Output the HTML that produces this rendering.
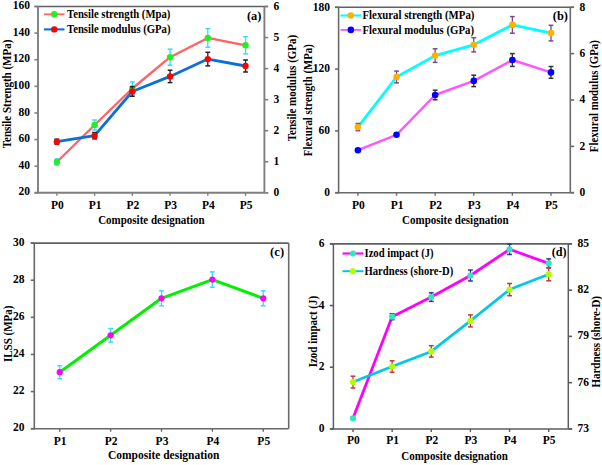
<!DOCTYPE html>
<html><head><meta charset="utf-8"><style>
html,body{margin:0;padding:0;background:#fff;}
body{width:602px;height:465px;overflow:hidden;}
svg{display:block;}
text{font-family:"Liberation Serif", serif;font-weight:bold;}
</style></head><body>
<svg width="602" height="465" viewBox="0 0 602 465">
<rect width="602" height="465" fill="#fff"/>
<line x1="34.5" y1="6.5" x2="267.9" y2="6.5" stroke="#606060" stroke-width="1.6"/>
<line x1="38" y1="6.5" x2="38" y2="193.60000000000002" stroke="#7f7f7f" stroke-width="1.9"/>
<line x1="34.5" y1="192.8" x2="264.4" y2="192.8" stroke="#7f7f7f" stroke-width="1.9"/>
<line x1="264.4" y1="6.5" x2="264.4" y2="192.8" stroke="#7f7f7f" stroke-width="1.9"/>
<line x1="264.4" y1="192.8" x2="268.2" y2="192.8" stroke="#7f7f7f" stroke-width="1.6"/>
<line x1="34.5" y1="192.8" x2="38" y2="192.8" stroke="#7f7f7f" stroke-width="1.6"/>
<text x="30" y="195.4" text-anchor="end" font-size="11.5" fill="#000">20</text>
<line x1="34.5" y1="166.18571428571428" x2="38" y2="166.18571428571428" stroke="#7f7f7f" stroke-width="1.6"/>
<text x="30" y="168.78571428571428" text-anchor="end" font-size="11.5" fill="#000">40</text>
<line x1="34.5" y1="139.57142857142858" x2="38" y2="139.57142857142858" stroke="#7f7f7f" stroke-width="1.6"/>
<text x="30" y="142.17142857142858" text-anchor="end" font-size="11.5" fill="#000">60</text>
<line x1="34.5" y1="112.95714285714286" x2="38" y2="112.95714285714286" stroke="#7f7f7f" stroke-width="1.6"/>
<text x="30" y="115.55714285714285" text-anchor="end" font-size="11.5" fill="#000">80</text>
<line x1="34.5" y1="86.34285714285714" x2="38" y2="86.34285714285714" stroke="#7f7f7f" stroke-width="1.6"/>
<text x="30" y="88.94285714285714" text-anchor="end" font-size="11.5" fill="#000">100</text>
<line x1="34.5" y1="59.72857142857143" x2="38" y2="59.72857142857143" stroke="#7f7f7f" stroke-width="1.6"/>
<text x="30" y="62.32857142857143" text-anchor="end" font-size="11.5" fill="#000">120</text>
<line x1="34.5" y1="33.1142857142857" x2="38" y2="33.1142857142857" stroke="#7f7f7f" stroke-width="1.6"/>
<text x="30" y="35.7142857142857" text-anchor="end" font-size="11.5" fill="#000">140</text>
<line x1="34.5" y1="6.5" x2="38" y2="6.5" stroke="#7f7f7f" stroke-width="1.6"/>
<text x="30" y="9.1" text-anchor="end" font-size="11.5" fill="#000">160</text>
<line x1="264.4" y1="192.8" x2="268.2" y2="192.8" stroke="#7f7f7f" stroke-width="1.6"/>
<text x="273.5" y="196.20000000000002" text-anchor="start" font-size="11.5" fill="#000">0</text>
<line x1="264.4" y1="161.75" x2="268.2" y2="161.75" stroke="#7f7f7f" stroke-width="1.6"/>
<text x="273.5" y="165.15" text-anchor="start" font-size="11.5" fill="#000">1</text>
<line x1="264.4" y1="130.70000000000002" x2="268.2" y2="130.70000000000002" stroke="#7f7f7f" stroke-width="1.6"/>
<text x="273.5" y="134.10000000000002" text-anchor="start" font-size="11.5" fill="#000">2</text>
<line x1="264.4" y1="99.64999999999999" x2="268.2" y2="99.64999999999999" stroke="#7f7f7f" stroke-width="1.6"/>
<text x="273.5" y="103.05" text-anchor="start" font-size="11.5" fill="#000">3</text>
<line x1="264.4" y1="68.60000000000001" x2="268.2" y2="68.60000000000001" stroke="#7f7f7f" stroke-width="1.6"/>
<text x="273.5" y="72.00000000000001" text-anchor="start" font-size="11.5" fill="#000">4</text>
<line x1="264.4" y1="37.55000000000001" x2="268.2" y2="37.55000000000001" stroke="#7f7f7f" stroke-width="1.6"/>
<text x="273.5" y="40.95000000000001" text-anchor="start" font-size="11.5" fill="#000">5</text>
<line x1="264.4" y1="6.499999999999972" x2="268.2" y2="6.499999999999972" stroke="#7f7f7f" stroke-width="1.6"/>
<text x="273.5" y="9.899999999999972" text-anchor="start" font-size="11.5" fill="#000">6</text>
<line x1="56.86666666666666" y1="192.8" x2="56.86666666666666" y2="195.8" stroke="#7f7f7f" stroke-width="1.4"/>
<text x="57.36666666666666" y="209.2" text-anchor="middle" font-size="11.5" fill="#000">P0</text>
<line x1="94.6" y1="192.8" x2="94.6" y2="195.8" stroke="#7f7f7f" stroke-width="1.4"/>
<text x="95.1" y="209.2" text-anchor="middle" font-size="11.5" fill="#000">P1</text>
<line x1="132.33333333333331" y1="192.8" x2="132.33333333333331" y2="195.8" stroke="#7f7f7f" stroke-width="1.4"/>
<text x="132.83333333333331" y="209.2" text-anchor="middle" font-size="11.5" fill="#000">P2</text>
<line x1="170.06666666666663" y1="192.8" x2="170.06666666666663" y2="195.8" stroke="#7f7f7f" stroke-width="1.4"/>
<text x="170.56666666666663" y="209.2" text-anchor="middle" font-size="11.5" fill="#000">P3</text>
<line x1="207.79999999999998" y1="192.8" x2="207.79999999999998" y2="195.8" stroke="#7f7f7f" stroke-width="1.4"/>
<text x="208.29999999999998" y="209.2" text-anchor="middle" font-size="11.5" fill="#000">P4</text>
<line x1="245.5333333333333" y1="192.8" x2="245.5333333333333" y2="195.8" stroke="#7f7f7f" stroke-width="1.4"/>
<text x="246.0333333333333" y="209.2" text-anchor="middle" font-size="11.5" fill="#000">P5</text>
<text transform="translate(151.4,224) scale(1,1.1)" text-anchor="middle" font-size="11" fill="#000">Composite designation</text>
<text transform="translate(10.5,94) rotate(-90) scale(1,1.1)" text-anchor="middle" font-size="11" fill="#000">Tensile Strength (MPa)</text>
<text transform="translate(296,88) rotate(-90) scale(1,1.1)" text-anchor="middle" font-size="11" fill="#000">Tensile modulus (GPa)</text>
<text x="254.2" y="20.3" text-anchor="middle" font-size="12.4" fill="#000">(a)</text>
<polyline points="56.87,162.00 94.60,125.00 132.33,88.50 170.07,57.20 207.80,37.90 245.53,45.30" fill="none" stroke="#FF6262" stroke-width="2.3" stroke-linejoin="round"/>
<polyline points="56.87,141.70 94.60,135.70 132.33,91.50 170.07,76.40 207.80,59.10 245.53,66.00" fill="none" stroke="#0A6FD8" stroke-width="2.8" stroke-linejoin="round"/>
<line x1="56.86666666666666" y1="159" x2="56.86666666666666" y2="165" stroke="#33DDFF" stroke-width="1.3"/>
<line x1="54.46666666666666" y1="159" x2="59.26666666666666" y2="159" stroke="#33DDFF" stroke-width="1.5"/>
<line x1="54.46666666666666" y1="165" x2="59.26666666666666" y2="165" stroke="#33DDFF" stroke-width="1.5"/>
<line x1="94.6" y1="120" x2="94.6" y2="130" stroke="#33DDFF" stroke-width="1.3"/>
<line x1="92.19999999999999" y1="120" x2="97.0" y2="120" stroke="#33DDFF" stroke-width="1.5"/>
<line x1="92.19999999999999" y1="130" x2="97.0" y2="130" stroke="#33DDFF" stroke-width="1.5"/>
<line x1="132.33333333333331" y1="82.0" x2="132.33333333333331" y2="95.0" stroke="#33DDFF" stroke-width="1.3"/>
<line x1="129.9333333333333" y1="82.0" x2="134.73333333333332" y2="82.0" stroke="#33DDFF" stroke-width="1.5"/>
<line x1="129.9333333333333" y1="95.0" x2="134.73333333333332" y2="95.0" stroke="#33DDFF" stroke-width="1.5"/>
<line x1="170.06666666666663" y1="49.2" x2="170.06666666666663" y2="65.2" stroke="#33DDFF" stroke-width="1.3"/>
<line x1="167.66666666666663" y1="49.2" x2="172.46666666666664" y2="49.2" stroke="#33DDFF" stroke-width="1.5"/>
<line x1="167.66666666666663" y1="65.2" x2="172.46666666666664" y2="65.2" stroke="#33DDFF" stroke-width="1.5"/>
<line x1="207.79999999999998" y1="28.599999999999998" x2="207.79999999999998" y2="47.2" stroke="#33DDFF" stroke-width="1.3"/>
<line x1="205.39999999999998" y1="28.599999999999998" x2="210.2" y2="28.599999999999998" stroke="#33DDFF" stroke-width="1.5"/>
<line x1="205.39999999999998" y1="47.2" x2="210.2" y2="47.2" stroke="#33DDFF" stroke-width="1.5"/>
<line x1="245.5333333333333" y1="36.699999999999996" x2="245.5333333333333" y2="53.9" stroke="#33DDFF" stroke-width="1.3"/>
<line x1="243.1333333333333" y1="36.699999999999996" x2="247.9333333333333" y2="36.699999999999996" stroke="#33DDFF" stroke-width="1.5"/>
<line x1="243.1333333333333" y1="53.9" x2="247.9333333333333" y2="53.9" stroke="#33DDFF" stroke-width="1.5"/>
<circle cx="56.87" cy="162.00" r="3.2" fill="#22EE22"/>
<circle cx="94.60" cy="125.00" r="3.2" fill="#22EE22"/>
<circle cx="132.33" cy="88.50" r="3.2" fill="#22EE22"/>
<circle cx="170.07" cy="57.20" r="3.2" fill="#22EE22"/>
<circle cx="207.80" cy="37.90" r="3.2" fill="#22EE22"/>
<circle cx="245.53" cy="45.30" r="3.2" fill="#22EE22"/>
<line x1="56.86666666666666" y1="139.2" x2="56.86666666666666" y2="144.2" stroke="#222222" stroke-width="1.3"/>
<line x1="54.46666666666666" y1="139.2" x2="59.26666666666666" y2="139.2" stroke="#222222" stroke-width="1.5"/>
<line x1="54.46666666666666" y1="144.2" x2="59.26666666666666" y2="144.2" stroke="#222222" stroke-width="1.5"/>
<line x1="94.6" y1="132.5" x2="94.6" y2="138.89999999999998" stroke="#222222" stroke-width="1.3"/>
<line x1="92.19999999999999" y1="132.5" x2="97.0" y2="132.5" stroke="#222222" stroke-width="1.5"/>
<line x1="92.19999999999999" y1="138.89999999999998" x2="97.0" y2="138.89999999999998" stroke="#222222" stroke-width="1.5"/>
<line x1="132.33333333333331" y1="86.7" x2="132.33333333333331" y2="96.3" stroke="#222222" stroke-width="1.3"/>
<line x1="129.9333333333333" y1="86.7" x2="134.73333333333332" y2="86.7" stroke="#222222" stroke-width="1.5"/>
<line x1="129.9333333333333" y1="96.3" x2="134.73333333333332" y2="96.3" stroke="#222222" stroke-width="1.5"/>
<line x1="170.06666666666663" y1="70.2" x2="170.06666666666663" y2="82.60000000000001" stroke="#222222" stroke-width="1.3"/>
<line x1="167.66666666666663" y1="70.2" x2="172.46666666666664" y2="70.2" stroke="#222222" stroke-width="1.5"/>
<line x1="167.66666666666663" y1="82.60000000000001" x2="172.46666666666664" y2="82.60000000000001" stroke="#222222" stroke-width="1.5"/>
<line x1="207.79999999999998" y1="52.300000000000004" x2="207.79999999999998" y2="65.9" stroke="#222222" stroke-width="1.3"/>
<line x1="205.39999999999998" y1="52.300000000000004" x2="210.2" y2="52.300000000000004" stroke="#222222" stroke-width="1.5"/>
<line x1="205.39999999999998" y1="65.9" x2="210.2" y2="65.9" stroke="#222222" stroke-width="1.5"/>
<line x1="245.5333333333333" y1="60" x2="245.5333333333333" y2="72" stroke="#222222" stroke-width="1.3"/>
<line x1="243.1333333333333" y1="60" x2="247.9333333333333" y2="60" stroke="#222222" stroke-width="1.5"/>
<line x1="243.1333333333333" y1="72" x2="247.9333333333333" y2="72" stroke="#222222" stroke-width="1.5"/>
<circle cx="56.87" cy="141.70" r="3.2" fill="#FF0000"/>
<circle cx="94.60" cy="135.70" r="3.2" fill="#FF0000"/>
<circle cx="132.33" cy="91.50" r="3.2" fill="#FF0000"/>
<circle cx="170.07" cy="76.40" r="3.2" fill="#FF0000"/>
<circle cx="207.80" cy="59.10" r="3.2" fill="#FF0000"/>
<circle cx="245.53" cy="66.00" r="3.2" fill="#FF0000"/>
<line x1="44" y1="14.3" x2="64.5" y2="14.3" stroke="#FF6262" stroke-width="1.7249999999999999"/>
<circle cx="54.25" cy="14.3" r="3.2" fill="#22EE22"/>
<text transform="translate(67,18.0) scale(1,1.1)" text-anchor="start" font-size="10.7" fill="#000">Tensile strength (Mpa)</text>
<line x1="44" y1="29.4" x2="64.5" y2="29.4" stroke="#0A6FD8" stroke-width="2.0999999999999996"/>
<circle cx="54.25" cy="29.4" r="3.2" fill="#FF0000"/>
<text transform="translate(67,33.1) scale(1,1.1)" text-anchor="start" font-size="10.7" fill="#000">Tensile modulus (GPa)</text>
<line x1="335.1" y1="7.3" x2="573.8" y2="7.3" stroke="#606060" stroke-width="1.6"/>
<line x1="338.6" y1="7.3" x2="338.6" y2="193.5" stroke="#6a6a6a" stroke-width="1.6"/>
<line x1="335.1" y1="192.7" x2="570.3" y2="192.7" stroke="#6a6a6a" stroke-width="1.6"/>
<line x1="570.3" y1="7.3" x2="570.3" y2="192.7" stroke="#6a6a6a" stroke-width="1.6"/>
<line x1="570.3" y1="192.7" x2="574.0999999999999" y2="192.7" stroke="#6a6a6a" stroke-width="1.6"/>
<line x1="335.1" y1="192.7" x2="338.6" y2="192.7" stroke="#6a6a6a" stroke-width="1.6"/>
<text x="330" y="195.89999999999998" text-anchor="end" font-size="11.5" fill="#000">0</text>
<line x1="335.1" y1="130.9" x2="338.6" y2="130.9" stroke="#6a6a6a" stroke-width="1.6"/>
<text x="330" y="134.1" text-anchor="end" font-size="11.5" fill="#000">60</text>
<line x1="335.1" y1="69.10000000000001" x2="338.6" y2="69.10000000000001" stroke="#6a6a6a" stroke-width="1.6"/>
<text x="330" y="72.30000000000001" text-anchor="end" font-size="11.5" fill="#000">120</text>
<line x1="335.1" y1="7.300000000000011" x2="338.6" y2="7.300000000000011" stroke="#6a6a6a" stroke-width="1.6"/>
<text x="330" y="10.50000000000001" text-anchor="end" font-size="11.5" fill="#000">180</text>
<line x1="570.3" y1="192.7" x2="574.0999999999999" y2="192.7" stroke="#6a6a6a" stroke-width="1.6"/>
<text x="579.5" y="195.89999999999998" text-anchor="start" font-size="11.5" fill="#000">0</text>
<line x1="570.3" y1="146.35" x2="574.0999999999999" y2="146.35" stroke="#6a6a6a" stroke-width="1.6"/>
<text x="579.5" y="149.54999999999998" text-anchor="start" font-size="11.5" fill="#000">2</text>
<line x1="570.3" y1="100.0" x2="574.0999999999999" y2="100.0" stroke="#6a6a6a" stroke-width="1.6"/>
<text x="579.5" y="103.2" text-anchor="start" font-size="11.5" fill="#000">4</text>
<line x1="570.3" y1="53.650000000000006" x2="574.0999999999999" y2="53.650000000000006" stroke="#6a6a6a" stroke-width="1.6"/>
<text x="579.5" y="56.85000000000001" text-anchor="start" font-size="11.5" fill="#000">6</text>
<line x1="570.3" y1="7.300000000000011" x2="574.0999999999999" y2="7.300000000000011" stroke="#6a6a6a" stroke-width="1.6"/>
<text x="579.5" y="10.50000000000001" text-anchor="start" font-size="11.5" fill="#000">8</text>
<line x1="357.90833333333336" y1="192.7" x2="357.90833333333336" y2="195.7" stroke="#6a6a6a" stroke-width="1.4"/>
<text x="358.40833333333336" y="208.7" text-anchor="middle" font-size="11.5" fill="#000">P0</text>
<line x1="396.525" y1="192.7" x2="396.525" y2="195.7" stroke="#6a6a6a" stroke-width="1.4"/>
<text x="397.025" y="208.7" text-anchor="middle" font-size="11.5" fill="#000">P1</text>
<line x1="435.14166666666665" y1="192.7" x2="435.14166666666665" y2="195.7" stroke="#6a6a6a" stroke-width="1.4"/>
<text x="435.64166666666665" y="208.7" text-anchor="middle" font-size="11.5" fill="#000">P2</text>
<line x1="473.7583333333333" y1="192.7" x2="473.7583333333333" y2="195.7" stroke="#6a6a6a" stroke-width="1.4"/>
<text x="474.2583333333333" y="208.7" text-anchor="middle" font-size="11.5" fill="#000">P3</text>
<line x1="512.375" y1="192.7" x2="512.375" y2="195.7" stroke="#6a6a6a" stroke-width="1.4"/>
<text x="512.875" y="208.7" text-anchor="middle" font-size="11.5" fill="#000">P4</text>
<line x1="550.9916666666666" y1="192.7" x2="550.9916666666666" y2="195.7" stroke="#6a6a6a" stroke-width="1.4"/>
<text x="551.4916666666666" y="208.7" text-anchor="middle" font-size="11.5" fill="#000">P5</text>
<text transform="translate(455.3,223.6) scale(1,1.1)" text-anchor="middle" font-size="11" fill="#000">Composite designation</text>
<text transform="translate(312.3,100.2) rotate(-90) scale(1,1.1)" text-anchor="middle" font-size="10.8" fill="#000">Flexural strength (MPa)</text>
<text transform="translate(598,96.2) rotate(-90) scale(1,1.1)" text-anchor="middle" font-size="10.85" fill="#000">Flexural modulus (GPa)</text>
<text x="560.4" y="19.5" text-anchor="middle" font-size="12.4" fill="#000">(b)</text>
<polyline points="357.91,127.10 396.52,77.00 435.14,55.60 473.76,44.80 512.38,24.90 550.99,33.10" fill="none" stroke="#00FFFF" stroke-width="2.8" stroke-linejoin="round"/>
<polyline points="357.91,150.20 396.52,134.80 435.14,95.00 473.76,80.90 512.38,60.00 550.99,72.40" fill="none" stroke="#FF55FF" stroke-width="2.4" stroke-linejoin="round"/>
<line x1="357.90833333333336" y1="123.5" x2="357.90833333333336" y2="130.7" stroke="#7B4A8C" stroke-width="1.3"/>
<line x1="355.5083333333334" y1="123.5" x2="360.30833333333334" y2="123.5" stroke="#7B4A8C" stroke-width="1.5"/>
<line x1="355.5083333333334" y1="130.7" x2="360.30833333333334" y2="130.7" stroke="#7B4A8C" stroke-width="1.5"/>
<line x1="396.525" y1="71.1" x2="396.525" y2="82.9" stroke="#7B4A8C" stroke-width="1.3"/>
<line x1="394.125" y1="71.1" x2="398.92499999999995" y2="71.1" stroke="#7B4A8C" stroke-width="1.5"/>
<line x1="394.125" y1="82.9" x2="398.92499999999995" y2="82.9" stroke="#7B4A8C" stroke-width="1.5"/>
<line x1="435.14166666666665" y1="48.800000000000004" x2="435.14166666666665" y2="62.4" stroke="#7B4A8C" stroke-width="1.3"/>
<line x1="432.7416666666667" y1="48.800000000000004" x2="437.54166666666663" y2="48.800000000000004" stroke="#7B4A8C" stroke-width="1.5"/>
<line x1="432.7416666666667" y1="62.4" x2="437.54166666666663" y2="62.4" stroke="#7B4A8C" stroke-width="1.5"/>
<line x1="473.7583333333333" y1="37.699999999999996" x2="473.7583333333333" y2="51.9" stroke="#7B4A8C" stroke-width="1.3"/>
<line x1="471.35833333333335" y1="37.699999999999996" x2="476.1583333333333" y2="37.699999999999996" stroke="#7B4A8C" stroke-width="1.5"/>
<line x1="471.35833333333335" y1="51.9" x2="476.1583333333333" y2="51.9" stroke="#7B4A8C" stroke-width="1.5"/>
<line x1="512.375" y1="16.599999999999998" x2="512.375" y2="33.2" stroke="#7B4A8C" stroke-width="1.3"/>
<line x1="509.975" y1="16.599999999999998" x2="514.775" y2="16.599999999999998" stroke="#7B4A8C" stroke-width="1.5"/>
<line x1="509.975" y1="33.2" x2="514.775" y2="33.2" stroke="#7B4A8C" stroke-width="1.5"/>
<line x1="550.9916666666666" y1="25.3" x2="550.9916666666666" y2="40.9" stroke="#7B4A8C" stroke-width="1.3"/>
<line x1="548.5916666666666" y1="25.3" x2="553.3916666666665" y2="25.3" stroke="#7B4A8C" stroke-width="1.5"/>
<line x1="548.5916666666666" y1="40.9" x2="553.3916666666665" y2="40.9" stroke="#7B4A8C" stroke-width="1.5"/>
<circle cx="357.91" cy="127.10" r="3.3" fill="#FFB000"/>
<circle cx="396.52" cy="77.00" r="3.3" fill="#FFB000"/>
<circle cx="435.14" cy="55.60" r="3.3" fill="#FFB000"/>
<circle cx="473.76" cy="44.80" r="3.3" fill="#FFB000"/>
<circle cx="512.38" cy="24.90" r="3.3" fill="#FFB000"/>
<circle cx="550.99" cy="33.10" r="3.3" fill="#FFB000"/>
<line x1="435.14166666666665" y1="90.2" x2="435.14166666666665" y2="99.8" stroke="#333333" stroke-width="1.3"/>
<line x1="432.7416666666667" y1="90.2" x2="437.54166666666663" y2="90.2" stroke="#333333" stroke-width="1.5"/>
<line x1="432.7416666666667" y1="99.8" x2="437.54166666666663" y2="99.8" stroke="#333333" stroke-width="1.5"/>
<line x1="473.7583333333333" y1="75.2" x2="473.7583333333333" y2="86.60000000000001" stroke="#333333" stroke-width="1.3"/>
<line x1="471.35833333333335" y1="75.2" x2="476.1583333333333" y2="75.2" stroke="#333333" stroke-width="1.5"/>
<line x1="471.35833333333335" y1="86.60000000000001" x2="476.1583333333333" y2="86.60000000000001" stroke="#333333" stroke-width="1.5"/>
<line x1="512.375" y1="53.6" x2="512.375" y2="66.4" stroke="#333333" stroke-width="1.3"/>
<line x1="509.975" y1="53.6" x2="514.775" y2="53.6" stroke="#333333" stroke-width="1.5"/>
<line x1="509.975" y1="66.4" x2="514.775" y2="66.4" stroke="#333333" stroke-width="1.5"/>
<line x1="550.9916666666666" y1="66.5" x2="550.9916666666666" y2="78.30000000000001" stroke="#333333" stroke-width="1.3"/>
<line x1="548.5916666666666" y1="66.5" x2="553.3916666666665" y2="66.5" stroke="#333333" stroke-width="1.5"/>
<line x1="548.5916666666666" y1="78.30000000000001" x2="553.3916666666665" y2="78.30000000000001" stroke="#333333" stroke-width="1.5"/>
<circle cx="357.91" cy="150.20" r="3.3" fill="#0000FF"/>
<circle cx="396.52" cy="134.80" r="3.3" fill="#0000FF"/>
<circle cx="435.14" cy="95.00" r="3.3" fill="#0000FF"/>
<circle cx="473.76" cy="80.90" r="3.3" fill="#0000FF"/>
<circle cx="512.38" cy="60.00" r="3.3" fill="#0000FF"/>
<circle cx="550.99" cy="72.40" r="3.3" fill="#0000FF"/>
<line x1="340.5" y1="15.5" x2="361.2" y2="15.5" stroke="#00FFFF" stroke-width="2.0999999999999996"/>
<circle cx="350.85" cy="15.5" r="3.3" fill="#FFB000"/>
<text transform="translate(362.5,19.2) scale(1,1.1)" text-anchor="start" font-size="10.8" fill="#000">Flexural strength (MPa)</text>
<line x1="340.5" y1="29.9" x2="361.2" y2="29.9" stroke="#FF55FF" stroke-width="1.7999999999999998"/>
<circle cx="350.85" cy="29.9" r="3.3" fill="#0000FF"/>
<text transform="translate(362.5,33.6) scale(1,1.1)" text-anchor="start" font-size="10.8" fill="#000">Flexural modulus (GPa)</text>
<line x1="30.799999999999997" y1="243.1" x2="288.7" y2="243.1" stroke="#606060" stroke-width="1.6"/>
<line x1="288.7" y1="243.1" x2="288.7" y2="428.7" stroke="#686868" stroke-width="1.6"/>
<line x1="34.3" y1="243.1" x2="34.3" y2="429.5" stroke="#686868" stroke-width="1.6"/>
<line x1="30.799999999999997" y1="428.7" x2="288.7" y2="428.7" stroke="#686868" stroke-width="1.6"/>
<line x1="30.799999999999997" y1="428.7" x2="34.3" y2="428.7" stroke="#686868" stroke-width="1.6"/>
<text x="24.6" y="431.3" text-anchor="end" font-size="11.5" fill="#000">20</text>
<line x1="30.799999999999997" y1="391.58" x2="34.3" y2="391.58" stroke="#686868" stroke-width="1.6"/>
<text x="24.6" y="394.18" text-anchor="end" font-size="11.5" fill="#000">22</text>
<line x1="30.799999999999997" y1="354.46" x2="34.3" y2="354.46" stroke="#686868" stroke-width="1.6"/>
<text x="24.6" y="357.06" text-anchor="end" font-size="11.5" fill="#000">24</text>
<line x1="30.799999999999997" y1="317.34000000000003" x2="34.3" y2="317.34000000000003" stroke="#686868" stroke-width="1.6"/>
<text x="24.6" y="319.94000000000005" text-anchor="end" font-size="11.5" fill="#000">26</text>
<line x1="30.799999999999997" y1="280.22" x2="34.3" y2="280.22" stroke="#686868" stroke-width="1.6"/>
<text x="24.6" y="282.82000000000005" text-anchor="end" font-size="11.5" fill="#000">28</text>
<line x1="30.799999999999997" y1="243.1" x2="34.3" y2="243.1" stroke="#686868" stroke-width="1.6"/>
<text x="24.6" y="245.7" text-anchor="end" font-size="11.5" fill="#000">30</text>
<line x1="59.739999999999995" y1="428.7" x2="59.739999999999995" y2="431.7" stroke="#686868" stroke-width="1.4"/>
<text x="60.239999999999995" y="445" text-anchor="middle" font-size="11.5" fill="#000">P1</text>
<line x1="110.61999999999999" y1="428.7" x2="110.61999999999999" y2="431.7" stroke="#686868" stroke-width="1.4"/>
<text x="111.11999999999999" y="445" text-anchor="middle" font-size="11.5" fill="#000">P2</text>
<line x1="161.5" y1="428.7" x2="161.5" y2="431.7" stroke="#686868" stroke-width="1.4"/>
<text x="162.0" y="445" text-anchor="middle" font-size="11.5" fill="#000">P3</text>
<line x1="212.38" y1="428.7" x2="212.38" y2="431.7" stroke="#686868" stroke-width="1.4"/>
<text x="212.88" y="445" text-anchor="middle" font-size="11.5" fill="#000">P4</text>
<line x1="263.26" y1="428.7" x2="263.26" y2="431.7" stroke="#686868" stroke-width="1.4"/>
<text x="263.76" y="445" text-anchor="middle" font-size="11.5" fill="#000">P5</text>
<text transform="translate(163.7,458.7) scale(1,1.1)" text-anchor="middle" font-size="11.5" fill="#000">Composite designation</text>
<text transform="translate(12,333.8) rotate(-90) scale(1,1.1)" text-anchor="middle" font-size="11" fill="#000">ILSS (MPa)</text>
<text x="277.1" y="256.2" text-anchor="middle" font-size="12.6" fill="#000">(c)</text>
<polyline points="59.74,372.20 110.62,335.30 161.50,298.30 212.38,279.60 263.26,298.30" fill="none" stroke="#00F000" stroke-width="3" stroke-linejoin="round"/>
<line x1="59.739999999999995" y1="365.7" x2="59.739999999999995" y2="378.7" stroke="#33DDFF" stroke-width="1.3"/>
<line x1="57.339999999999996" y1="365.7" x2="62.13999999999999" y2="365.7" stroke="#33DDFF" stroke-width="1.5"/>
<line x1="57.339999999999996" y1="378.7" x2="62.13999999999999" y2="378.7" stroke="#33DDFF" stroke-width="1.5"/>
<line x1="110.61999999999999" y1="328.5" x2="110.61999999999999" y2="342.1" stroke="#33DDFF" stroke-width="1.3"/>
<line x1="108.21999999999998" y1="328.5" x2="113.02" y2="328.5" stroke="#33DDFF" stroke-width="1.5"/>
<line x1="108.21999999999998" y1="342.1" x2="113.02" y2="342.1" stroke="#33DDFF" stroke-width="1.5"/>
<line x1="161.5" y1="290.8" x2="161.5" y2="305.8" stroke="#33DDFF" stroke-width="1.3"/>
<line x1="159.1" y1="290.8" x2="163.9" y2="290.8" stroke="#33DDFF" stroke-width="1.5"/>
<line x1="159.1" y1="305.8" x2="163.9" y2="305.8" stroke="#33DDFF" stroke-width="1.5"/>
<line x1="212.38" y1="271.90000000000003" x2="212.38" y2="287.3" stroke="#33DDFF" stroke-width="1.3"/>
<line x1="209.98" y1="271.90000000000003" x2="214.78" y2="271.90000000000003" stroke="#33DDFF" stroke-width="1.5"/>
<line x1="209.98" y1="287.3" x2="214.78" y2="287.3" stroke="#33DDFF" stroke-width="1.5"/>
<line x1="263.26" y1="290.8" x2="263.26" y2="305.8" stroke="#33DDFF" stroke-width="1.3"/>
<line x1="260.86" y1="290.8" x2="265.65999999999997" y2="290.8" stroke="#33DDFF" stroke-width="1.5"/>
<line x1="260.86" y1="305.8" x2="265.65999999999997" y2="305.8" stroke="#33DDFF" stroke-width="1.5"/>
<circle cx="59.74" cy="372.20" r="3.1" fill="#FF00FF"/>
<circle cx="110.62" cy="335.30" r="3.1" fill="#FF00FF"/>
<circle cx="161.50" cy="298.30" r="3.1" fill="#FF00FF"/>
<circle cx="212.38" cy="279.60" r="3.1" fill="#FF00FF"/>
<circle cx="263.26" cy="298.30" r="3.1" fill="#FF00FF"/>
<line x1="329.9" y1="243.9" x2="571.8" y2="243.9" stroke="#606060" stroke-width="1.6"/>
<line x1="333.4" y1="243.9" x2="333.4" y2="429.7" stroke="#5c5c5c" stroke-width="1.5"/>
<line x1="329.9" y1="428.9" x2="568.3" y2="428.9" stroke="#5c5c5c" stroke-width="1.5"/>
<line x1="568.3" y1="243.9" x2="568.3" y2="428.9" stroke="#5c5c5c" stroke-width="1.5"/>
<line x1="568.3" y1="428.9" x2="572.0999999999999" y2="428.9" stroke="#5c5c5c" stroke-width="1.6"/>
<line x1="329.9" y1="428.9" x2="333.4" y2="428.9" stroke="#5c5c5c" stroke-width="1.6"/>
<text x="324.4" y="431.9" text-anchor="end" font-size="11.5" fill="#000">0</text>
<line x1="329.9" y1="367.23333333333335" x2="333.4" y2="367.23333333333335" stroke="#5c5c5c" stroke-width="1.6"/>
<text x="324.4" y="370.23333333333335" text-anchor="end" font-size="11.5" fill="#000">2</text>
<line x1="329.9" y1="305.56666666666666" x2="333.4" y2="305.56666666666666" stroke="#5c5c5c" stroke-width="1.6"/>
<text x="324.4" y="308.56666666666666" text-anchor="end" font-size="11.5" fill="#000">4</text>
<line x1="329.9" y1="243.9" x2="333.4" y2="243.9" stroke="#5c5c5c" stroke-width="1.6"/>
<text x="324.4" y="246.9" text-anchor="end" font-size="11.5" fill="#000">6</text>
<line x1="568.3" y1="428.9" x2="572.0999999999999" y2="428.9" stroke="#5c5c5c" stroke-width="1.6"/>
<text x="577.5" y="431.9" text-anchor="start" font-size="11.5" fill="#000">73</text>
<line x1="568.3" y1="382.65" x2="572.0999999999999" y2="382.65" stroke="#5c5c5c" stroke-width="1.6"/>
<text x="577.5" y="385.65" text-anchor="start" font-size="11.5" fill="#000">76</text>
<line x1="568.3" y1="336.4" x2="572.0999999999999" y2="336.4" stroke="#5c5c5c" stroke-width="1.6"/>
<text x="577.5" y="339.4" text-anchor="start" font-size="11.5" fill="#000">79</text>
<line x1="568.3" y1="290.15" x2="572.0999999999999" y2="290.15" stroke="#5c5c5c" stroke-width="1.6"/>
<text x="577.5" y="293.15" text-anchor="start" font-size="11.5" fill="#000">82</text>
<line x1="568.3" y1="243.9" x2="572.0999999999999" y2="243.9" stroke="#5c5c5c" stroke-width="1.6"/>
<text x="577.5" y="246.9" text-anchor="start" font-size="11.5" fill="#000">85</text>
<line x1="352.97499999999997" y1="428.9" x2="352.97499999999997" y2="431.9" stroke="#5c5c5c" stroke-width="1.4"/>
<text x="353.47499999999997" y="444.2" text-anchor="middle" font-size="11.5" fill="#000">P0</text>
<line x1="392.125" y1="428.9" x2="392.125" y2="431.9" stroke="#5c5c5c" stroke-width="1.4"/>
<text x="392.625" y="444.2" text-anchor="middle" font-size="11.5" fill="#000">P1</text>
<line x1="431.275" y1="428.9" x2="431.275" y2="431.9" stroke="#5c5c5c" stroke-width="1.4"/>
<text x="431.775" y="444.2" text-anchor="middle" font-size="11.5" fill="#000">P2</text>
<line x1="470.42499999999995" y1="428.9" x2="470.42499999999995" y2="431.9" stroke="#5c5c5c" stroke-width="1.4"/>
<text x="470.92499999999995" y="444.2" text-anchor="middle" font-size="11.5" fill="#000">P3</text>
<line x1="509.57499999999993" y1="428.9" x2="509.57499999999993" y2="431.9" stroke="#5c5c5c" stroke-width="1.4"/>
<text x="510.07499999999993" y="444.2" text-anchor="middle" font-size="11.5" fill="#000">P4</text>
<line x1="548.7249999999999" y1="428.9" x2="548.7249999999999" y2="431.9" stroke="#5c5c5c" stroke-width="1.4"/>
<text x="549.2249999999999" y="444.2" text-anchor="middle" font-size="11.5" fill="#000">P5</text>
<text transform="translate(454.5,459.6) scale(1,1.1)" text-anchor="middle" font-size="11" fill="#000">Composite designation</text>
<text transform="translate(317.3,331.6) rotate(-90) scale(1,1.1)" text-anchor="middle" font-size="11" fill="#000">Izod impact (J)</text>
<text transform="translate(600,341.8) rotate(-90) scale(1,1.1)" text-anchor="middle" font-size="11" fill="#000">Hardness (shore-D)</text>
<text x="559.2" y="256.2" text-anchor="middle" font-size="12.2" fill="#000">(d)</text>
<polyline points="352.97,418.30 392.12,316.70 431.27,297.10 470.42,275.50 509.57,249.30 548.72,263.40" fill="none" stroke="#FF00FF" stroke-width="2.8" stroke-linejoin="round"/>
<polyline points="352.97,382.10 392.12,366.50 431.27,351.40 470.42,320.90 509.57,289.60 548.72,274.20" fill="none" stroke="#00C8E6" stroke-width="2.7" stroke-linejoin="round"/>
<line x1="392.125" y1="313.7" x2="392.125" y2="319.7" stroke="#333399" stroke-width="1.3"/>
<line x1="389.725" y1="313.7" x2="394.525" y2="313.7" stroke="#333399" stroke-width="1.5"/>
<line x1="389.725" y1="319.7" x2="394.525" y2="319.7" stroke="#333399" stroke-width="1.5"/>
<line x1="431.275" y1="292.8" x2="431.275" y2="301.40000000000003" stroke="#333399" stroke-width="1.3"/>
<line x1="428.875" y1="292.8" x2="433.67499999999995" y2="292.8" stroke="#333399" stroke-width="1.5"/>
<line x1="428.875" y1="301.40000000000003" x2="433.67499999999995" y2="301.40000000000003" stroke="#333399" stroke-width="1.5"/>
<line x1="470.42499999999995" y1="270.0" x2="470.42499999999995" y2="281.0" stroke="#333399" stroke-width="1.3"/>
<line x1="468.025" y1="270.0" x2="472.82499999999993" y2="270.0" stroke="#333399" stroke-width="1.5"/>
<line x1="468.025" y1="281.0" x2="472.82499999999993" y2="281.0" stroke="#333399" stroke-width="1.5"/>
<line x1="509.57499999999993" y1="244.10000000000002" x2="509.57499999999993" y2="254.5" stroke="#333399" stroke-width="1.3"/>
<line x1="507.17499999999995" y1="244.10000000000002" x2="511.9749999999999" y2="244.10000000000002" stroke="#333399" stroke-width="1.5"/>
<line x1="507.17499999999995" y1="254.5" x2="511.9749999999999" y2="254.5" stroke="#333399" stroke-width="1.5"/>
<line x1="548.7249999999999" y1="258.9" x2="548.7249999999999" y2="267.9" stroke="#333399" stroke-width="1.3"/>
<line x1="546.3249999999999" y1="258.9" x2="551.1249999999999" y2="258.9" stroke="#333399" stroke-width="1.5"/>
<line x1="546.3249999999999" y1="267.9" x2="551.1249999999999" y2="267.9" stroke="#333399" stroke-width="1.5"/>
<circle cx="352.97" cy="418.30" r="3.1" fill="#2EE8C0"/>
<circle cx="392.12" cy="316.70" r="3.1" fill="#2EE8C0"/>
<circle cx="431.27" cy="297.10" r="3.1" fill="#2EE8C0"/>
<circle cx="470.42" cy="275.50" r="3.1" fill="#2EE8C0"/>
<circle cx="509.57" cy="249.30" r="3.1" fill="#2EE8C0"/>
<circle cx="548.72" cy="263.40" r="3.1" fill="#2EE8C0"/>
<line x1="352.97499999999997" y1="376.20000000000005" x2="352.97499999999997" y2="388.0" stroke="#CC3333" stroke-width="1.3"/>
<line x1="350.575" y1="376.20000000000005" x2="355.37499999999994" y2="376.20000000000005" stroke="#CC3333" stroke-width="1.5"/>
<line x1="350.575" y1="388.0" x2="355.37499999999994" y2="388.0" stroke="#CC3333" stroke-width="1.5"/>
<line x1="392.125" y1="360.8" x2="392.125" y2="372.2" stroke="#CC3333" stroke-width="1.3"/>
<line x1="389.725" y1="360.8" x2="394.525" y2="360.8" stroke="#CC3333" stroke-width="1.5"/>
<line x1="389.725" y1="372.2" x2="394.525" y2="372.2" stroke="#CC3333" stroke-width="1.5"/>
<line x1="431.275" y1="345.7" x2="431.275" y2="357.09999999999997" stroke="#CC3333" stroke-width="1.3"/>
<line x1="428.875" y1="345.7" x2="433.67499999999995" y2="345.7" stroke="#CC3333" stroke-width="1.5"/>
<line x1="428.875" y1="357.09999999999997" x2="433.67499999999995" y2="357.09999999999997" stroke="#CC3333" stroke-width="1.5"/>
<line x1="470.42499999999995" y1="314.9" x2="470.42499999999995" y2="326.9" stroke="#CC3333" stroke-width="1.3"/>
<line x1="468.025" y1="314.9" x2="472.82499999999993" y2="314.9" stroke="#CC3333" stroke-width="1.5"/>
<line x1="468.025" y1="326.9" x2="472.82499999999993" y2="326.9" stroke="#CC3333" stroke-width="1.5"/>
<line x1="509.57499999999993" y1="283.5" x2="509.57499999999993" y2="295.70000000000005" stroke="#CC3333" stroke-width="1.3"/>
<line x1="507.17499999999995" y1="283.5" x2="511.9749999999999" y2="283.5" stroke="#CC3333" stroke-width="1.5"/>
<line x1="507.17499999999995" y1="295.70000000000005" x2="511.9749999999999" y2="295.70000000000005" stroke="#CC3333" stroke-width="1.5"/>
<line x1="548.7249999999999" y1="267.59999999999997" x2="548.7249999999999" y2="280.8" stroke="#CC3333" stroke-width="1.3"/>
<line x1="546.3249999999999" y1="267.59999999999997" x2="551.1249999999999" y2="267.59999999999997" stroke="#CC3333" stroke-width="1.5"/>
<line x1="546.3249999999999" y1="280.8" x2="551.1249999999999" y2="280.8" stroke="#CC3333" stroke-width="1.5"/>
<circle cx="352.97" cy="382.10" r="3.1" fill="#B3FF00"/>
<circle cx="392.12" cy="366.50" r="3.1" fill="#B3FF00"/>
<circle cx="431.27" cy="351.40" r="3.1" fill="#B3FF00"/>
<circle cx="470.42" cy="320.90" r="3.1" fill="#B3FF00"/>
<circle cx="509.57" cy="289.60" r="3.1" fill="#B3FF00"/>
<circle cx="548.72" cy="274.20" r="3.1" fill="#B3FF00"/>
<line x1="342.5" y1="253.5" x2="363.5" y2="253.5" stroke="#FF00FF" stroke-width="2.0999999999999996"/>
<circle cx="353.00" cy="253.5" r="3.1" fill="#2EE8C0"/>
<text transform="translate(364.5,257.2) scale(1,1.1)" text-anchor="start" font-size="10.65" fill="#000">Izod impact (J)</text>
<line x1="342.5" y1="271.2" x2="363.5" y2="271.2" stroke="#00C8E6" stroke-width="2.0250000000000004"/>
<circle cx="353.00" cy="271.2" r="3.1" fill="#B3FF00"/>
<text transform="translate(364.5,274.9) scale(1,1.1)" text-anchor="start" font-size="10.65" fill="#000">Hardness (shore-D)</text>
</svg></body></html>
